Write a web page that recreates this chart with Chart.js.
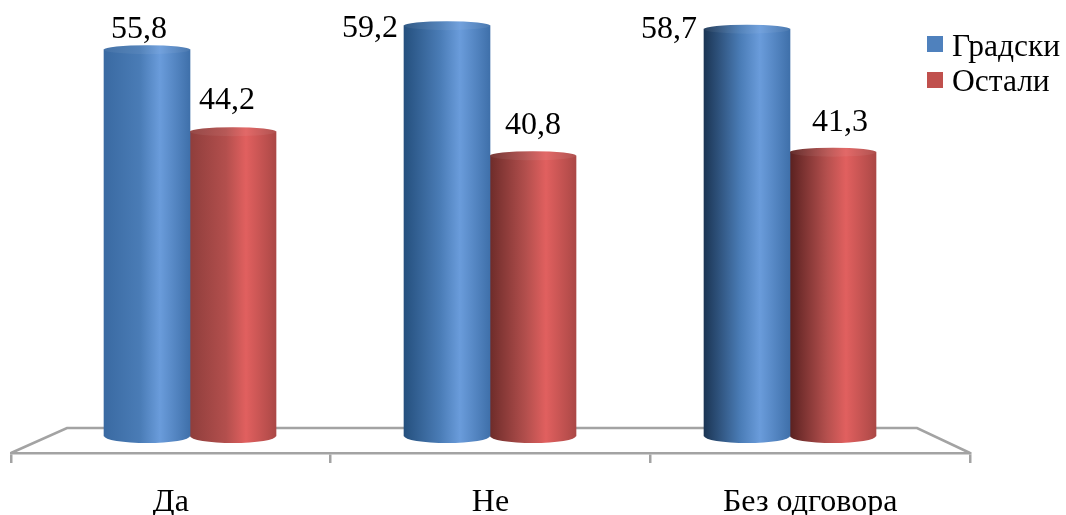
<!DOCTYPE html>
<html>
<head>
<meta charset="utf-8">
<style>
    html, body { margin: 0; padding: 0; background: #fff; }
    #wrap { width: 1066px; height: 515px; }
</style>
<script src="https://cdn.jsdelivr.net/npm/chart.js@4"></script>
</head>
<body>
<div id="wrap"><canvas id="chart" width="1066" height="515"></canvas></div>
<script>
const categories = ['Да', 'Не', 'Без одговора'];
const gradski = [55.8, 59.2, 58.7];
const ostali = [44.2, 40.8, 41.3];

const FONT = '"Liberation Serif", "Times New Roman", serif';
const BAR_W = 86;
const AXIS_GREY = '#a3a3a3';
const LEGEND_COLORS = ['#4f81bd', '#c0504d'];

// left edge gets darker towards the right, like the lit 3D columns
const SHADES = {
    blue: { left: ['#3a6aa2', '#25507e', '#1b3554'], mid: '#4a7cb6', peak: '#6a9cdb', right: '#3f70aa' },
    red: { left: ['#8f3e3c', '#6e2c2a', '#5a2120'], mid: '#b34f4d', peak: '#e1605f', right: '#ab4846' }
};

// hand placed labels, same as the source: dx from bar centre, dy above bar top
const labelOffsets = [
    [[-8, -20], [-6, -31]],
    [[-77, 3], [0, -30]],
    [[-78, 0], [7, -30]]
];

function columnFill(chart, shade, idx, dsIndex) {
    const cx = chart.scales.xBar.getPixelForValue(idx) + (dsIndex === 0 ? -BAR_W / 2 : BAR_W / 2);
    const g = chart.ctx.createLinearGradient(cx - BAR_W / 2, 0, cx + BAR_W / 2, 0);
    g.addColorStop(0, shade.left[idx]);
    g.addColorStop(0.42, shade.mid);
    g.addColorStop(0.65, shade.peak);
    g.addColorStop(1, shade.right);
    return g;
}

const cylinderPlugin = {
    id: 'cylinder',
    afterLayout(chart) {
        // legend sits partly over the plot, outside of what chartArea position allows
        const legend = chart.legend;
        legend.left = 917.75;
        legend.right = 1066;
        legend.top = 28.5;
        legend.bottom = 200;
        legend.adjustHitBoxes();
    },
    beforeDatasetsDraw(chart) {
        const { ctx, chartArea: a } = chart;
        // floor of the 3D box, front edge is the x axis itself
        ctx.save();
        ctx.strokeStyle = AXIS_GREY;
        ctx.lineWidth = 2.5;
        ctx.beginPath();
        ctx.moveTo(a.left, a.bottom);
        ctx.lineTo(a.left + 56, a.bottom - 25);
        ctx.lineTo(a.right - 53, a.bottom - 25);
        ctx.lineTo(a.right, a.bottom);
        ctx.stroke();
        ctx.restore();
        // bottom rounding under each column
        chart.data.datasets.forEach((ds, d) => {
            chart.getDatasetMeta(d).data.forEach((bar, i) => {
                ctx.save();
                ctx.fillStyle = columnFill(chart, ds.shade, i, d);
                ctx.beginPath();
                ctx.ellipse(bar.x, bar.base, BAR_W / 2, 7, 0, 0, Math.PI * 2);
                ctx.fill();
                ctx.restore();
            });
        });
    },
    afterDatasetsDraw(chart) {
        const { ctx } = chart;
        chart.data.datasets.forEach((ds, d) => {
            chart.getDatasetMeta(d).data.forEach((bar, i) => {
                ctx.save();
                ctx.fillStyle = columnFill(chart, ds.shade, i, d);
                ctx.beginPath();
                ctx.ellipse(bar.x, bar.y, BAR_W / 2, 4.5, 0, 0, Math.PI * 2);
                ctx.fill();
                ctx.fillStyle = 'rgba(255, 255, 255, 0.06)';
                ctx.fill();
                ctx.restore();

                const off = labelOffsets[i][d];
                ctx.save();
                ctx.fillStyle = '#000';
                ctx.font = '32px ' + FONT;
                ctx.textAlign = 'center';
                ctx.textBaseline = 'middle';
                ctx.fillText(String(ds.data[i].y).replace('.', ','), bar.x + off[0], bar.y + off[1]);
                ctx.restore();
            });
        });
    },
    afterDraw(chart) {
        // legend squares sit closer to the text than the built-in gap
        const { ctx } = chart;
        chart.legend.legendHitBoxes.forEach((box, i) => {
            ctx.fillStyle = LEGEND_COLORS[i];
            ctx.fillRect(927, 36 + i * 36, 16, 16);
        });
    }
};

new Chart(document.getElementById('chart'), {
    type: 'bar',
    data: {
        labels: categories,
        datasets: [
            {
                label: 'Градски',
                data: categories.map((c, i) => ({ x: i, y: gradski[i] })),
                shade: SHADES.blue,
                base: 1.16,
                barThickness: BAR_W,
                backgroundColor: ctx => ctx.dataIndex === undefined ? LEGEND_COLORS[0] : columnFill(ctx.chart, SHADES.blue, ctx.dataIndex, 0),
                xAxisID: 'xBar'
            },
            {
                label: 'Остали',
                data: categories.map((c, i) => ({ x: i, y: ostali[i] })),
                shade: SHADES.red,
                base: 1.16,
                barThickness: BAR_W,
                backgroundColor: ctx => ctx.dataIndex === undefined ? LEGEND_COLORS[1] : columnFill(ctx.chart, SHADES.red, ctx.dataIndex, 1),
                xAxisID: 'xBar'
            }
        ]
    },
    options: {
        responsive: false,
        animation: false,
        layout: { padding: { left: 11, right: 96, top: 20, bottom: 0 } },
        scales: {
            x: {
                type: 'category',
                offset: true,
                border: { color: AXIS_GREY, width: 2.5 },
                grid: { offset: true, drawOnChartArea: false, color: AXIS_GREY, lineWidth: 2.5, tickLength: 10 },
                ticks: { color: '#000', font: { family: FONT, size: 32 }, padding: 20.5, maxRotation: 0 },
                afterFit: scale => { scale.height = 62; }
            },
            // bars sit closer together than the front labels because of the perspective
            xBar: { type: 'linear', display: false, offset: false, min: -0.5967, max: 2.6 },
            y: { display: false, min: -1.25, max: 60 }
        },
        plugins: {
            tooltip: { enabled: false },
            legend: {
                position: 'chartArea',
                align: 'start',
                labels: {
                    color: '#000',
                    font: { family: FONT, size: 31.5 },
                    boxWidth: 15,
                    boxHeight: 15,
                    padding: 3.5,
                    generateLabels: chart => chart.data.datasets.map((ds, i) => ({
                        text: ds.label,
                        fillStyle: 'transparent',
                        strokeStyle: 'transparent',
                        lineWidth: 0,
                        datasetIndex: i
                    }))
                }
            }
        }
    },
    plugins: [cylinderPlugin]
});
</script>
</body>
</html>
